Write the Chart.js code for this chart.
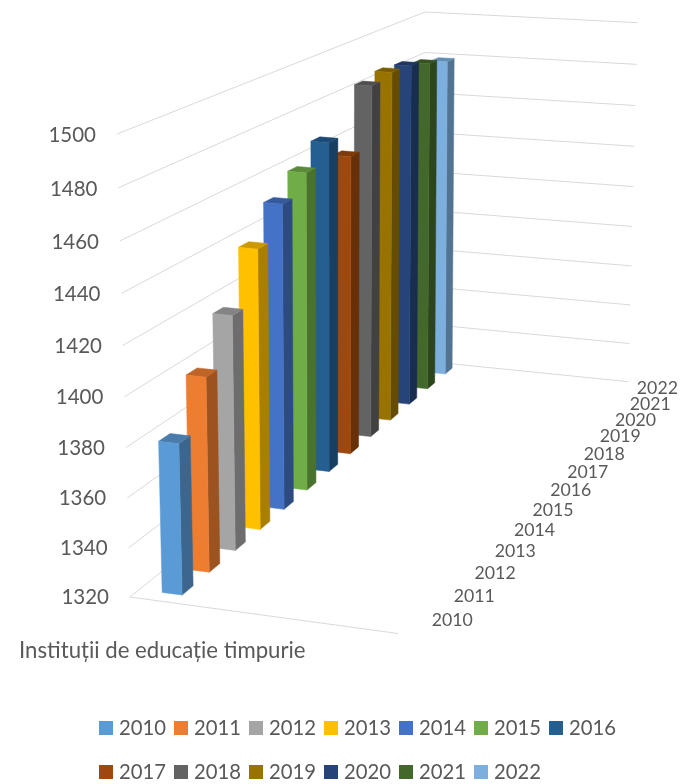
<!DOCTYPE html>
<html>
<head>
<meta charset="utf-8">
<script src="https://cdn.jsdelivr.net/npm/chart.js@4"></script>
<style>
    html, body { margin: 0; background: #fff; }
    canvas { display: block; }
</style>
</head>
<body>
<canvas id="chart" width="684" height="784"></canvas>
<script>
const categories = ['Instituții de educație timpurie'];
const years = ['2010', '2011', '2012', '2013', '2014', '2015', '2016', '2017', '2018', '2019', '2020', '2021', '2022'];
const institutions = [1381, 1400, 1418, 1439, 1452, 1460, 1468, 1457, 1484, 1486, 1485, 1482, 1479];
const colors = ['#5B9BD5', '#ED7D31', '#A5A5A5', '#FFC000', '#4472C4', '#70AD47', '#255E91', '#9E480E', '#636363', '#997300', '#264478', '#43682B', '#7CAFDD'];
const valueTicks = { min: 1320, max: 1500, step: 20 };

const TEXT = '#595959';
const GRID = '#D9D9D9';
const FONT = 'Lato, sans-serif';

// Screen corners of the 3D box, front/back and left/right, bottom and top
const box = {
    frontLeft: { bottom: [130, 597], top: [117, 134] },
    frontRight: { bottom: [398, 633.5], top: [400, 160] },
    backLeft: { bottom: [424, 361], top: [425, 12] },
    backRight: { bottom: [628.3, 381.7], top: [637.7, 22.7] }
};
const DEPTH_PERSPECTIVE_FLOOR = 0.775;
const DEPTH_PERSPECTIVE_TOP = 0.74;
const HEIGHT_PERSPECTIVE = 1.05;
const BAR_LEFT = 0.085;
const BAR_RIGHT = 0.16;
const BAR_FRONT = 0.33;
const BAR_BACK = 0.73;

const lerp = (a, b, f) => a + (b - a) * f;
const lerpPoint = (a, b, f) => [lerp(a[0], b[0], f), lerp(a[1], b[1], f)];
const foreshorten = (f, k) => f / (f + k * (1 - f));

// x: 0 left to 1 right, h: 0 floor to 1 top, z: 0 front to 1 back
function project(x, h, z) {
    const v = foreshorten(h, HEIGHT_PERSPECTIVE);
    const t = foreshorten(z, lerp(DEPTH_PERSPECTIVE_FLOOR, DEPTH_PERSPECTIVE_TOP, v));
    const corner = c => lerpPoint(c.bottom, c.top, v);
    const left = lerpPoint(corner(box.frontLeft), corner(box.backLeft), t);
    const right = lerpPoint(corner(box.frontRight), corner(box.backRight), t);
    return lerpPoint(left, right, x);
}

function heightOf(scale, value) {
    const bottom = scale.getPixelForValue(scale.min);
    const top = scale.getPixelForValue(scale.max);
    return (bottom - scale.getPixelForValue(value)) / (bottom - top);
}

function shade(hex, factor) {
    const n = parseInt(hex.slice(1), 16);
    const part = shift => Math.round(((n >> shift) & 255) * factor);
    return `rgb(${part(16)}, ${part(8)}, ${part(0)})`;
}

function fillFace(ctx, points, color) {
    ctx.beginPath();
    points.forEach((p, i) => (i ? ctx.lineTo(p[0], p[1]) : ctx.moveTo(p[0], p[1])));
    ctx.closePath();
    ctx.fillStyle = color;
    ctx.strokeStyle = color;
    ctx.lineWidth = 0.5;
    ctx.fill();
    ctx.stroke();
}

function strokeLine(ctx, points) {
    ctx.beginPath();
    points.forEach((p, i) => (i ? ctx.lineTo(p[0], p[1]) : ctx.moveTo(p[0], p[1])));
    ctx.strokeStyle = GRID;
    ctx.lineWidth = 1;
    ctx.stroke();
}

const box3d = {
    id: 'box3d',

    // Walls, value labels, depth labels and category label
    beforeDatasetsDraw(chart) {
        const { ctx } = chart;
        const yScale = chart.scales.y;
        ctx.save();
        ctx.fillStyle = TEXT;
        ctx.textBaseline = 'middle';
        yScale.ticks.forEach(tick => {
            const h = heightOf(yScale, tick.value);
            strokeLine(ctx, [project(0, h, 0), project(0, h, 1), project(1, h, 1)]);
            const start = project(0, h, 0);
            ctx.font = `20.5px ${FONT}`;
            ctx.textAlign = 'right';
            ctx.fillText(String(tick.value), start[0] - 21, start[1] + 1.5 * h);
        });
        strokeLine(ctx, [project(0, 0, 0), project(1, 0, 0)]);

        ctx.font = `17.7px ${FONT}`;
        ctx.textAlign = 'center';
        chart.data.datasets.forEach((dataset, i) => {
            const edge = project(1, 0, (i + 0.5) / years.length);
            const nudge = i === years.length - 1 ? -7 : 0;
            ctx.fillText(dataset.label, edge[0] + 43 + nudge, edge[1] - 1);
        });

        ctx.font = `22.2px ${FONT}`;
        ctx.textAlign = 'left';
        ctx.fillText(chart.data.labels[0], 19, 651);
        ctx.restore();
    },

    // Replaces the flat bar with front, side and top faces
    beforeDatasetDraw(chart, args) {
        const { ctx } = chart;
        const dataset = chart.data.datasets[args.index];
        const color = dataset.backgroundColor;
        const h = heightOf(chart.scales.y, dataset.data[0]);
        const z0 = (args.index + BAR_FRONT) / years.length;
        const z1 = (args.index + BAR_BACK) / years.length;
        fillFace(ctx, [project(BAR_RIGHT, 0, z0), project(BAR_RIGHT, 0, z1), project(BAR_RIGHT, h, z1), project(BAR_RIGHT, h, z0)], shade(color, 0.66));
        fillFace(ctx, [project(BAR_LEFT, h, z0), project(BAR_RIGHT, h, z0), project(BAR_RIGHT, h, z1), project(BAR_LEFT, h, z1)], shade(color, 0.8));
        fillFace(ctx, [project(BAR_LEFT, 0, z0), project(BAR_RIGHT, 0, z0), project(BAR_RIGHT, h, z0), project(BAR_LEFT, h, z0)], color);
        return false;
    },

    // Legend in two rows, the built-in one cannot space rows and swatches like this
    afterDraw(chart) {
        const { ctx } = chart;
        const perRow = 7;
        ctx.save();
        ctx.font = `20.3px ${FONT}`;
        ctx.textAlign = 'left';
        ctx.textBaseline = 'middle';
        chart.data.datasets.forEach((dataset, i) => {
            const x = 99 + (i % perRow) * 75;
            const y = 728 + Math.floor(i / perRow) * 44;
            ctx.fillStyle = dataset.backgroundColor;
            ctx.fillRect(x, y - 7, 14, 14);
            ctx.fillStyle = TEXT;
            ctx.fillText(dataset.label, x + 20, y);
        });
        ctx.restore();
    }
};

new Chart(document.getElementById('chart'), {
    type: 'bar',
    data: {
        labels: categories,
        datasets: years.map((year, i) => ({
            label: year,
            data: [institutions[i]],
            backgroundColor: colors[i]
        }))
    },
    options: {
        responsive: false,
        animation: false,
        plugins: {
            legend: { display: false },
            tooltip: { enabled: false }
        },
        scales: {
            x: { display: false },
            y: {
                display: false,
                min: valueTicks.min,
                max: valueTicks.max,
                ticks: { stepSize: valueTicks.step }
            }
        }
    },
    plugins: [box3d]
});
</script>
</body>
</html>
